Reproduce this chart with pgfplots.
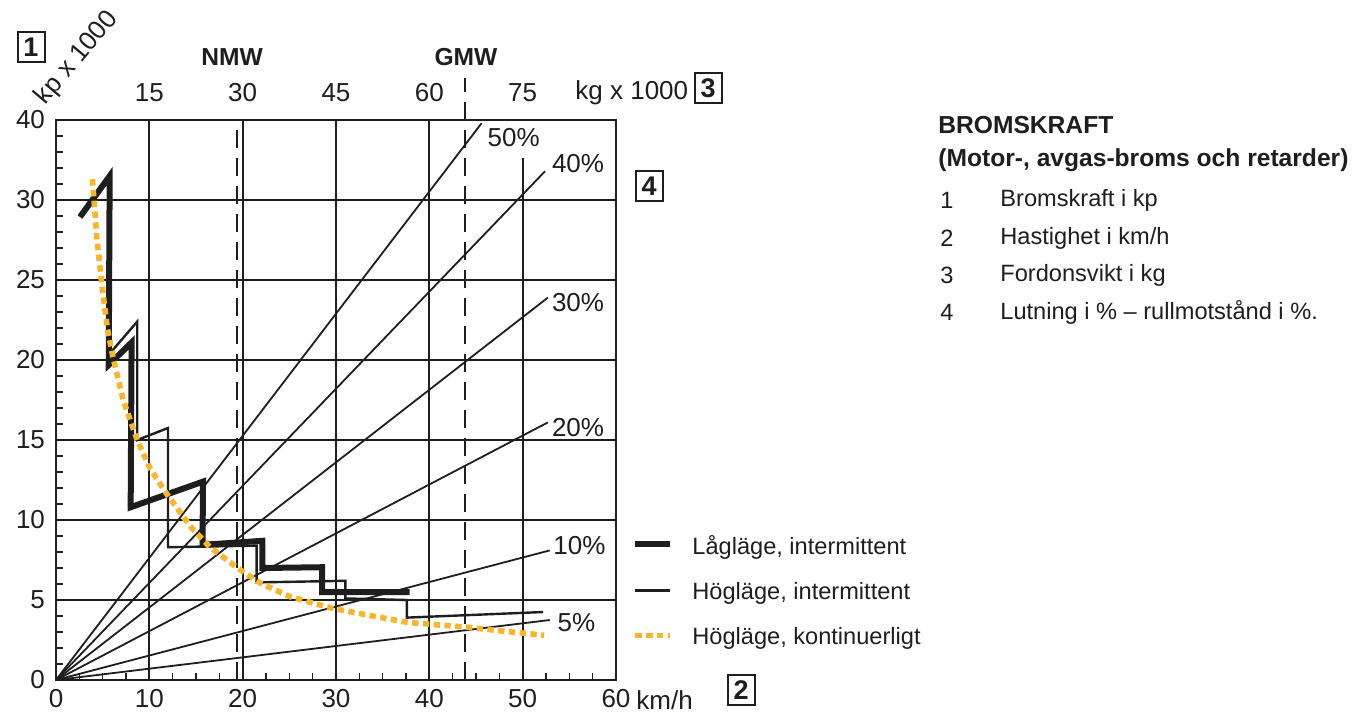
\documentclass[border=0pt]{standalone}
\usepackage{pgfplots}
\pgfplotsset{compat=1.18}
\usepackage{fontspec}
\setmainfont{Liberation Sans}
\definecolor{ink}{HTML}{1E1E1E}
\definecolor{dotorange}{RGB}{246,182,50}
\newcommand\txt{\fontsize{11.8}{14}\selectfont}
\newcommand\num{\fontsize{13}{15}\selectfont}
\newcommand\bld{\fontsize{12.3}{14}\selectfont\bfseries}

\begin{document}
\begin{tikzpicture}
\begin{axis}[
    at={(28pt,-340pt)}, anchor=south west,
    scale only axis, width=280pt, height=280pt,
    xmin=0, xmax=60, ymin=0, ymax=35,
    clip=false,
    axis line style={ink, line width=1.4pt},
    xtick={0,10,...,60},
    ytick={0,5,...,35},
    yticklabels={0,5,10,15,20,25,30,40},
    minor x tick num=3, minor y tick num=4,
    tick pos=left, tick align=inside,
    major tick length=0pt, minor tick length=3.5pt,
    minor tick style={ink, line width=0.8pt},
    ticklabel style={font=\num, text=ink},
    yticklabel style={xshift=-2pt},
    xticklabel style={yshift=-1pt},
    /pgf/number format/assume math mode=true,
    legend style={at={(axis description cs:1.0286,0.158)}, anchor=west,
        draw=none, fill=none, inner sep=0pt, row sep=12.5pt, font=\txt, text=ink,
        nodes={inner sep=0pt},
        /tikz/every odd column/.append style={column sep=9.5pt}},
    legend cell align=left,
    legend image code/.code={\draw[#1] (0pt,1pt) -- (17.5pt,1pt);},
]
% grid
\pgfplotsinvokeforeach{10,20,30,40}{
  \addplot[ink, line width=1pt, forget plot] coordinates {(#1,0)(#1,35)};
}
\addplot[ink, line width=1pt, forget plot] coordinates {(50,0)(50,32.6)};
\pgfplotsinvokeforeach{5,10,15,20,25,30}{
  \addplot[ink, line width=1pt, forget plot] coordinates {(0,#1)(60,#1)};
}
% NMW / GMW
\addplot[ink, line width=1pt, dash pattern=on 9pt off 5pt, forget plot] coordinates {(19.4,0)(19.4,35)};
\addplot[ink, line width=1pt, dash pattern=on 9pt off 5pt, forget plot] coordinates {(43.8,0)(43.8,37.6)};
% gradient lines
\addplot[ink, line width=0.9pt, forget plot] coordinates {(0,0)(45.6,34.8)};
\addplot[ink, line width=0.9pt, forget plot] coordinates {(0,0)(52.4,31.8)};
\addplot[ink, line width=0.9pt, forget plot] coordinates {(0,0)(52.7,23.9)};
\addplot[ink, line width=0.9pt, forget plot] coordinates {(0,0)(52.7,16.1)};
\addplot[ink, line width=0.9pt, forget plot] coordinates {(0,0)(52.9,8.1)};
\addplot[ink, line width=0.9pt, forget plot] coordinates {(0,0)(52.9,3.75)};
\node[anchor=west, inner sep=0pt, font=\num, text=ink] at (46.2,33.9) {50\%};
\node[anchor=west, inner sep=0pt, font=\num, text=ink] at (53.1,32.3) {40\%};
\node[anchor=west, inner sep=0pt, font=\num, text=ink] at (53.1,23.6) {30\%};
\node[anchor=west, inner sep=0pt, font=\num, text=ink] at (53.1,15.8) {20\%};
\node[anchor=west, inner sep=0pt, font=\num, text=ink] at (53.25,8.4) {10\%};
\node[anchor=west, inner sep=0pt, font=\num, text=ink] at (53.7,3.6) {5\%};

% Lagläge, intermittent
\addplot[ink, line width=3pt, line join=miter] coordinates {
  (2.57,28.94)(5.75,31.5)(5.65,19.7)(8.1,21.1)(8.0,10.8)(15.75,12.4)
  (15.7,8.45)(22.1,8.7)(22.1,7.0)(28.5,7.05)(28.5,5.5)(37.9,5.5)
};
\addlegendentry{Lågläge, intermittent}
% Högläge, intermittent
\addplot[ink, line width=1.2pt, line join=miter] coordinates {
  (5.9,20.5)(8.7,22.4)(8.7,15.0)(12.0,15.75)(12.0,8.3)(21.5,8.4)
  (21.5,6.1)(31.0,6.2)(31.0,5.1)(37.6,5.0)(37.6,3.9)(52.2,4.25)
};
\addlegendentry{Högläge, intermittent}
% Högläge, kontinuerligt
\addplot[dotorange, line width=2.8pt, dash pattern=on 3.2pt off 2.2pt] coordinates {
  (3.9,31.3)(4.4,27.5)(4.9,24.8)(5.5,22.0)(6.1,20.2)(7.2,17.5)(8.7,15.0)
  (10.1,13.2)(11.9,11.6)(14.4,9.6)(16.5,8.3)(19.7,6.9)(21.9,6.06)(25.1,5.2)
  (29.5,4.5)(33.0,4.1)(37.7,3.6)(44.1,3.3)(48.0,3.05)(52.3,2.8)
};
\addlegendentry{Högläge, kontinuerligt}
\end{axis}

\begin{scope}[x=0.5pt, y=-0.5pt, text=ink]
  \tikzset{box/.style={draw=ink, line width=1pt, inner sep=0pt, minimum width=13.5pt,
      minimum height=15pt, font=\fontsize{13.5}{15}\selectfont\bfseries}}
  % top weight scale
  \foreach \xx/\lab in {149.3/15, 242.7/30, 336/45, 429.3/60, 522.7/75}
    \node[font=\num] at (\xx,93) {\lab};
  \node[font=\num, anchor=west, inner sep=0pt] at (575,93) {kg x 1000};
  \node[box] at (708,88) {3};
  \node[font=\bld] at (232,57) {NMW};
  \node[font=\bld] at (466,57) {GMW};
  \node[box] at (31,47) {1};
  \node[font=\num, rotate=50] at (77,58) {kp x 1000};
  \node[font=\num, anchor=west, inner sep=0pt] at (636,700) {km/h};
  \node[box] at (741,690) {2};
  \node[box] at (649,186) {4};
  % explanation
  \node[font=\bld, anchor=west, inner sep=0pt] at (938,125) {BROMSKRAFT};
  \node[font=\bld, anchor=west, inner sep=0pt] at (938,160) {(Motor-, avgas-broms och retarder)};
  \foreach \yy/\n/\t in {200/1/{Bromskraft i kp}, 238/2/{Hastighet i km/h},
      275/3/{Fordonsvikt i kg}, 312/4/{Lutning i \% – rullmotstånd i \%.}}{
    \node[font=\txt, anchor=west, inner sep=0pt] at (940,\yy) {\n};
    \node[font=\txt, anchor=west, inner sep=0pt] at (1000,\yy) {\t};
  }
  \pgfresetboundingbox
  \path[use as bounding box] (0,0) rectangle (1354,714);
\end{scope}
\end{tikzpicture}
\end{document}
